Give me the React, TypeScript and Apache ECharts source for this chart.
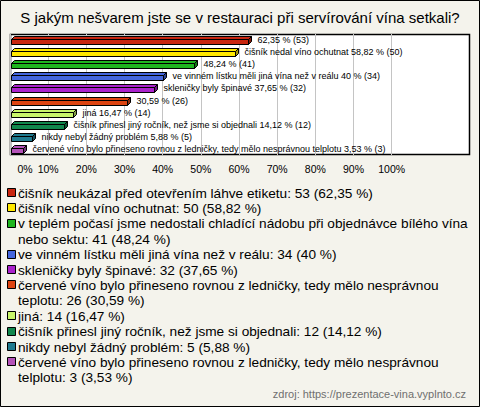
import React, { useEffect, useRef } from 'react';
import * as echarts from 'echarts';

const TITLE = 'S jakým nešvarem jste se v restauraci při servírování vína setkali?';
const SOURCE = 'zdroj: https://prezentace-vina.vyplnto.cz';

const categories = [
  'čišník neukázal před otevřením láhve etiketu',
  'čišník nedal víno ochutnat',
  'v teplém počasí jsme nedostali chladící nádobu při objednávce bílého vína nebo sektu',
  've vinném lístku měli jiná vína než v reálu',
  'skleničky byly špinavé',
  'červené víno bylo přineseno rovnou z ledničky, tedy mělo nesprávnou teplotu',
  'jiná',
  'čišník přinesl jiný ročník, než jsme si objednali',
  'nikdy nebyl žádný problém',
  'červené víno bylo přineseno rovnou z ledničky, tedy mělo nesprávnou telplotu',
];
const counts = [53, 50, 41, 34, 32, 26, 14, 12, 5, 3];
const percents = [62.35, 58.82, 48.24, 40, 37.65, 30.59, 16.47, 14.12, 5.88, 3.53];
const showNameInBar = [false, true, false, true, true, false, true, true, true, true];
const colors = [
  '#c9260f', '#ffe800', '#1fb51f', '#4466dd', '#aa22cc',
  '#dd4411', '#c8f56a', '#11874d', '#1f7a8f', '#b452b8',
];
const xTicks = [0, 10, 20, 30, 40, 50, 60, 70, 80, 90, 100];

const fmtPct = (p: number) => String(p).replace('.', ',');

function shade(hex: string, f: number) {
  const n = parseInt(hex.slice(1), 16);
  let r = (n >> 16) & 255, g = (n >> 8) & 255, b = n & 255;
  const m = (c: number) => Math.max(0, Math.min(255, Math.round(f < 0 ? c * (1 + f) : c + (255 - c) * f)));
  r = m(r); g = m(g); b = m(b);
  return '#' + ((1 << 24) + (r << 16) + (g << 8) + b).toString(16).slice(1);
}

function wrapText(text: string, font: string, maxW: number): string[] {
  const ctx = document.createElement('canvas').getContext('2d')!;
  ctx.font = font;
  const words = text.split(' ');
  const lines: string[] = [];
  let cur = '';
  for (const w of words) {
    const t = cur ? cur + ' ' + w : w;
    if (ctx.measureText(t).width > maxW && cur) {
      lines.push(cur);
      cur = w;
    } else cur = t;
  }
  if (cur) lines.push(cur);
  return lines;
}

export default function App() {
  const ref = useRef<HTMLDivElement>(null);
  useEffect(() => {
    if (!ref.current) return;
    const chart = echarts.init(ref.current, undefined, { renderer: 'svg' });

    const legendFont = '13.65px "Liberation Sans"';
    const legendEls: any[] = [];
    let line = 0;
    const y0 = 193, lh = 15.4;
    categories.forEach((name, i) => {
      const text = `${name}: ${counts[i]} (${fmtPct(percents[i])} %)`;
      const lines = wrapText(text, legendFont, 460);
      const yc = y0 + line * lh;
      legendEls.push({
        type: 'rect',
        shape: { x: 7.5, y: Math.round(yc) - 4.5, width: 8, height: 8 },
        style: { fill: colors[i], stroke: '#000', lineWidth: 1 },
      });
      lines.forEach((ln, k) => {
        legendEls.push({
          type: 'text',
          x: 18,
          y: yc + k * lh,
          style: {
            text: ln, font: legendFont, fill: '#000',
            textAlign: 'left', textVerticalAlign: 'middle', verticalAlign: 'middle',
          },
        });
      });
      line += lines.length;
    });

    const option: any = {
      animation: false,
      backgroundColor: '#f4f3ec',
      title: [
        {
          text: TITLE, left: 'center', top: 5,
          textStyle: { fontSize: 15, fontWeight: 'normal', color: '#000', fontFamily: 'Liberation Sans' },
        },
        {
          text: SOURCE, right: 9, bottom: 3,
          textStyle: { fontSize: 11, fontWeight: 'normal', color: '#6f6f6f', fontFamily: 'Liberation Sans' },
        },
      ],
      grid: { left: 10, top: 34, width: 381.7, height: 121, show: false },
      xAxis: {
        type: 'value', min: 0, max: 100, interval: 10,
        axisLine: { show: false }, axisTick: { show: false },
        splitLine: { show: true, lineStyle: { color: '#c4c4c4', width: 1 } },
        axisLabel: {
          formatter: (v: number) => (v === 0 ? '{z|0%}' : xTicks.includes(v) ? `${v}%` : ''),
          fontSize: 10.5, color: '#000', fontFamily: 'Liberation Sans', margin: 8,
          rich: { z: { fontSize: 10.5, color: '#000', fontFamily: 'Liberation Sans', padding: [0, 0, 0, 30] } },
        },
      },
      yAxis: {
        type: 'category', inverse: true, data: categories,
        show: false,
      },
      graphic: [
        {
          type: 'rect', z: -10, silent: true,
          shape: { x: 10.5, y: 34.5, width: 459, height: 120 },
          style: { fill: '#fff', stroke: '#000', lineWidth: 1.5 },
        },
        {
          type: 'rect', z: 100, silent: true,
          shape: { x: 0.5, y: 0.5, width: 479, height: 406 },
          style: { fill: 'none', stroke: '#000', lineWidth: 1 },
        },
        ...legendEls,
      ],
      series: [
        {
          type: 'custom',
          coordinateSystem: 'cartesian2d',
          encode: { x: 0, y: 1 },
          clip: false,
          data: percents.map((p, i) => [p, i]),
          renderItem: (params: any, api: any) => {
            const v = api.value(0);
            const idx = api.value(1);
            const s = api.coord([0, idx]);
            const e = api.coord([v, idx]);
            const yc = Math.round(s[1]);
            const d = 3, h = 5;
            const top = yc - 1 + 0.5;
            const bot = top + h;
            const x0 = s[0] + 1.5;
            const x1 = Math.round(e[0]) + 0.5;
            const c = colors[idx];
            const label = (showNameInBar[idx] ? categories[idx] + ' ' : '') + `${fmtPct(percents[idx])} % (${counts[idx]})`;
            return {
              type: 'group',
              children: [
                {
                  type: 'polygon',
                  shape: { points: [[x0, top], [x0 + d, top - d], [x1 + d, top - d], [x1, top]] },
                  style: { fill: c, stroke: '#000', lineWidth: 1 },
                },
                {
                  type: 'rect',
                  shape: { x: x0, y: top, width: x1 - x0, height: h },
                  style: { fill: c, stroke: '#000', lineWidth: 1 },
                },
                {
                  type: 'polygon',
                  shape: { points: [[x1, top], [x1 + d, top - d], [x1 + d, bot - d], [x1, bot]] },
                  style: { fill: shade(c, -0.35), stroke: '#000', lineWidth: 1 },
                },
                {
                  type: 'text',
                  x: x1 + d + 6,
                  y: yc,
                  style: {
                    text: label, font: '9px "Liberation Sans"', fill: '#000',
                    textAlign: 'left', textVerticalAlign: 'middle', verticalAlign: 'middle',
                  },
                },
              ],
            };
          },
        },
      ],
    };
    chart.setOption(option);
    return () => chart.dispose();
  }, []);
  return <div ref={ref} style={{ position: 'fixed', left: 0, top: 0, width: 480, height: 407 }} />;
}
